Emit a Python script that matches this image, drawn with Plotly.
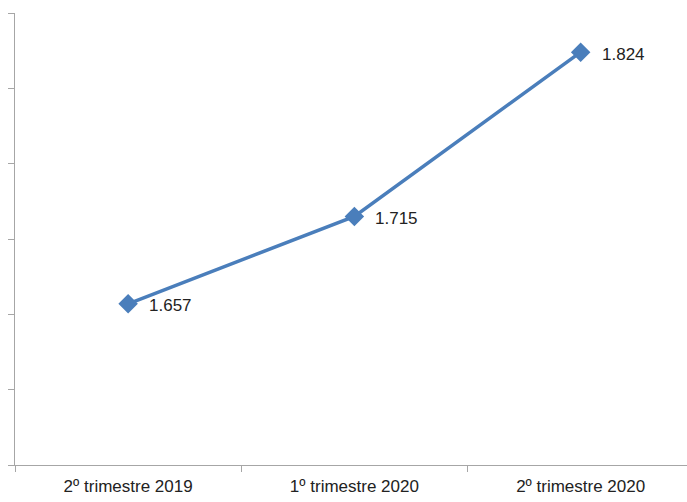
import plotly.graph_objects as go

# Quarterly values
periods = ["2º trimestre 2019", "1º trimestre 2020", "2º trimestre 2020"]
values = [1.657, 1.715, 1.824]
value_labels = ["1.657", "1.715", "1.824"]

line_color = "#4A7EBB"
axis_color = "#A6A6A6"
text_color = "#222222"
font_family = "Liberation Sans, Arial, sans-serif"

fig = go.Figure()
fig.add_trace(go.Scatter(
    x=periods,
    y=values,
    mode="lines+markers",
    line=dict(color=line_color, width=3.5),
    marker=dict(symbol="diamond", size=15, color=line_color),
    cliponaxis=False,
    hoverinfo="skip",
))

# Value labels placed to the right of each point
for p, v, lab in zip(periods, values, value_labels):
    fig.add_annotation(
        x=p, y=v, text=lab, showarrow=False,
        xanchor="left", yanchor="middle",
        xshift=19, yshift=-2,
        font=dict(family=font_family, size=17, color=text_color),
    )

fig.update_layout(
    width=687,
    height=502,
    margin=dict(l=15, r=0, t=13, b=37),
    paper_bgcolor="white",
    plot_bgcolor="white",
    showlegend=False,
    font=dict(family=font_family, size=17, color=text_color),
)

fig.update_xaxes(
    type="category",
    range=[-0.5, 2.47],
    tickson="boundaries",
    ticks="outside",
    ticklen=6,
    tickcolor=axis_color,
    showline=True,
    linecolor=axis_color,
    linewidth=1,
    showgrid=False,
    zeroline=False,
    ticklabelstandoff=6,
    tickfont=dict(family=font_family, size=17, color=text_color),
)

fig.update_yaxes(
    range=[1.55, 1.85],
    tickvals=[1.55, 1.60, 1.65, 1.70, 1.75, 1.80, 1.85],
    showticklabels=False,
    ticks="outside",
    ticklen=6,
    tickcolor=axis_color,
    showline=True,
    linecolor=axis_color,
    linewidth=1,
    showgrid=False,
    zeroline=False,
)

fig.write_html("out.html")
